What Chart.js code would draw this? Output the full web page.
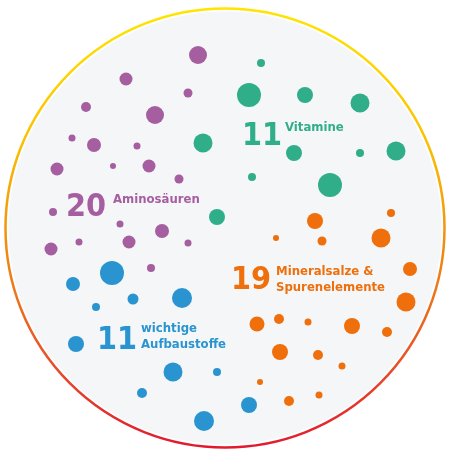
<!DOCTYPE html>
<html lang="de">
<head>
<meta charset="UTF-8">
<title>Nährstoffe</title>
<style>
  body { margin: 0; background: #fff; }
  .chartBox { width: 450px; height: 451px; }
</style>
</head>
<body>
<div class="chartBox"><canvas id="myChart" width="450" height="451"></canvas></div>
<script src="https://cdn.jsdelivr.net/npm/chart.js"></script>
<script>
// bubble groups: x, y, radius (all in the 450x451 picture space)
const aminoX = [198, 126, 188, 86, 155, 72, 94, 137, 149, 113, 57, 179, 53, 120, 162, 51, 79, 129, 188, 151];
const aminoY = [55, 79, 93, 107, 115, 138, 145, 146, 166, 166, 169, 179, 212, 224, 231, 249, 242, 242, 243, 268];
const aminoR = [9, 6.5, 4.5, 5, 9, 3.5, 7, 3.5, 6.5, 3, 6.5, 4.5, 4, 3.5, 7, 6.5, 3.5, 6.5, 3.5, 4];

const vitX = [261, 249, 305, 360, 294, 360, 396, 252, 330, 203, 217];
const vitY = [63, 95, 95, 103, 153, 153, 151, 177, 185, 143, 217];
const vitR = [4, 12, 8, 9.5, 8, 4, 9.5, 4, 12, 9.5, 8];

const minX = [315, 391, 276, 322, 381, 410, 406, 257, 279, 308, 352, 387, 280, 318, 342, 260, 289, 319];
const minY = [221, 213, 238, 241, 238, 269, 302, 324, 319, 322, 326, 332, 352, 355, 366, 382, 401, 395];
const minR = [8, 4, 3, 4.5, 9.5, 7, 9.5, 7.5, 5, 3.5, 8, 5, 8, 5, 3.5, 3, 5, 3.5];

const baseX = [112, 73, 133, 182, 96, 76, 173, 217, 142, 204, 249];
const baseY = [273, 284, 299, 298, 307, 344, 372, 372, 393, 421, 405];
const baseR = [12, 7, 5.5, 10, 4, 8, 9.5, 4, 5, 10, 8];

// label texts
const counts = ['20', '11', '19', '11'];
const names = [['Aminosäuren'], ['Vitamine'], ['Mineralsalze &', 'Spurenelemente'], ['wichtige', 'Aufbaustoffe']];

const colors = ['#a55e9f', '#30ae8a', '#ee6f0b', '#2a94d1'];

function pts(xs, ys, rs) {
  return xs.map((x, i) => ({ x: x, y: ys[i], r: rs[i] }));
}

const ringPlugin = {
  id: 'ring',
  beforeDatasetsDraw(chart) {
    const c = chart.ctx, sx = chart.scales.x, sy = chart.scales.y;
    const cx = sx.getPixelForValue(225), cy = sy.getPixelForValue(228);
    const r = 219.5;
    c.save();
    c.beginPath();
    c.arc(cx, cy, r - 3, 0, Math.PI * 2);
    c.fillStyle = '#f5f6f8';
    c.fill();
    const g = c.createLinearGradient(0, cy - r, 0, cy + r);
    g.addColorStop(0, '#ffe500');
    g.addColorStop(0.3, '#fbc000');
    g.addColorStop(0.55, '#f08a10');
    g.addColorStop(0.8, '#e8522a');
    g.addColorStop(1, '#e2192f');
    c.beginPath();
    c.arc(cx, cy, r, 0, Math.PI * 2);
    c.strokeStyle = g;
    c.lineWidth = 2.5;
    c.stroke();
    c.restore();
  }
};

// label anchors: [count x, count baseline y, text x, first text baseline y]
const labelPos = [[66, 216, 113, 203], [242, 145, 285, 131], [231, 289, 276, 275], [97, 349, 141, 332]];

const labelPlugin = {
  id: 'labels',
  afterDatasetsDraw(chart) {
    const c = chart.ctx, sx = chart.scales.x, sy = chart.scales.y;
    c.save();
    c.textAlign = 'left';
    c.textBaseline = 'alphabetic';
    counts.forEach((n, i) => {
      const p = labelPos[i];
      c.fillStyle = colors[i];
      c.font = 'bold 32px "DejaVu Sans Condensed", "DejaVu Sans", sans-serif';
      c.fillText(n, sx.getPixelForValue(p[0]), sy.getPixelForValue(p[1]));
      c.font = 'bold 13px "DejaVu Sans Condensed", "DejaVu Sans", sans-serif';
      names[i].forEach((t, j) => {
        c.fillText(t, sx.getPixelForValue(p[2]), sy.getPixelForValue(p[3] + j * 16));
      });
    });
    c.restore();
  }
};

const ctx = document.getElementById('myChart').getContext('2d');
const myChart = new Chart(ctx, {
  type: 'bubble',
  data: {
    datasets: [
      { label: 'Aminosäuren', data: pts(aminoX, aminoY, aminoR), backgroundColor: colors[0] },
      { label: 'Vitamine', data: pts(vitX, vitY, vitR), backgroundColor: colors[1] },
      { label: 'Mineralsalze & Spurenelemente', data: pts(minX, minY, minR), backgroundColor: colors[2] },
      { label: 'wichtige Aufbaustoffe', data: pts(baseX, baseY, baseR), backgroundColor: colors[3] }
    ]
  },
  options: {
    responsive: false,
    animation: false,
    layout: { padding: 0, autoPadding: false },
    elements: { point: { borderWidth: 0, hoverBorderWidth: 0 } },
    clip: false,
    scales: {
      x: { type: 'linear', min: 0, max: 450, display: false },
      y: { type: 'linear', min: 0, max: 451, reverse: true, display: false }
    },
    plugins: {
      legend: { display: false },
      tooltip: { enabled: false }
    }
  },
  plugins: [ringPlugin, labelPlugin]
});
</script>
</body>
</html>
